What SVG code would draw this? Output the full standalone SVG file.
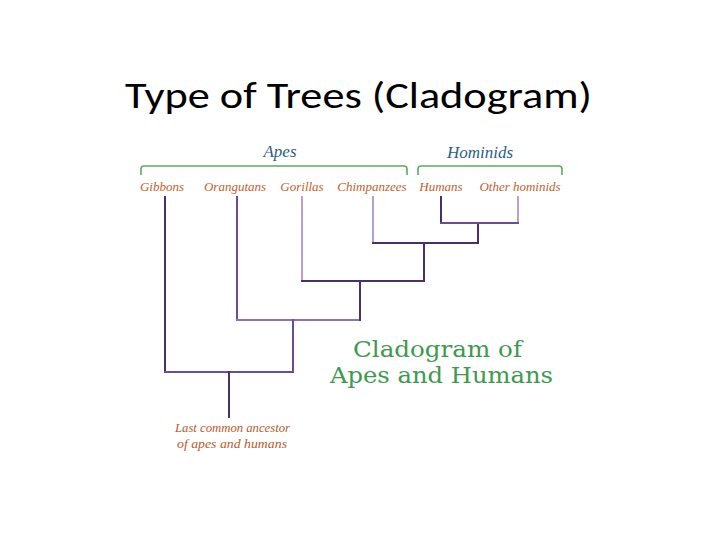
<svg xmlns="http://www.w3.org/2000/svg" width="720" height="540" viewBox="0 0 720 540">
<style>
.title{font-family:Carlito,"Liberation Sans","Open Sans",sans-serif;font-size:36px;fill:#000}
.lbl{font-family:"Liberation Serif","DejaVu Serif",serif;font-style:italic;font-size:13px;fill:#c0612c}
.grp{font-family:"Liberation Serif","DejaVu Serif",serif;font-style:italic;font-size:17px;fill:#2a5f80}
.big{font-family:"DejaVu Serif","Liberation Serif",serif;font-size:23px;fill:#3d9a4e}
.anc{font-family:"Liberation Serif","DejaVu Serif",serif;font-style:italic;font-size:12.5px;fill:#b85a2a}
.br{fill:none;stroke:#5cab62;stroke-width:1.6}
.ln{fill:none;stroke-width:2;stroke-linecap:square}
.d{stroke:#4b2f68}
.m{stroke:#6a4c98}
.l{stroke:#b9a0cf}
.h{stroke:#8d71b2}
</style>
<rect width="720" height="540" fill="#fff"/>
<text class="title" x="125" y="108" textLength="467" lengthAdjust="spacingAndGlyphs">Type of Trees (Cladogram)</text>

<g id="brackets">
<path class="br" d="M141,175 V169 Q141,166 144,166 H404 Q407,166 407,169 V175"/>
<path class="br" d="M418,175 V169 Q418,166 421,166 H559 Q562,166 562,169 V175"/>
<text class="grp" x="280" y="157" text-anchor="middle">Apes</text>
<text class="grp" x="480" y="158" text-anchor="middle">Hominids</text>
</g>

<g id="gibbons"><text class="lbl" x="162" y="191" text-anchor="middle">Gibbons</text></g>
<g id="orangutans"><text class="lbl" x="235" y="191" text-anchor="middle">Orangutans</text></g>
<g id="gorillas"><text class="lbl" x="302" y="191" text-anchor="middle">Gorillas</text></g>
<g id="chimpanzees"><text class="lbl" x="372" y="191" text-anchor="middle">Chimpanzees</text></g>
<g id="humans"><text class="lbl" x="441" y="191" text-anchor="middle">Humans</text></g>
<g id="other-hominids"><text class="lbl" x="520" y="191" text-anchor="middle">Other hominids</text></g>
<g id="ancestor">
<text class="anc" x="175" y="432" textLength="115" lengthAdjust="spacingAndGlyphs">Last common ancestor</text>
<text class="anc" x="177" y="448" textLength="110" lengthAdjust="spacingAndGlyphs">of apes and humans</text>
</g>
<g id="caption">
<text class="big" x="353" y="357" textLength="169" lengthAdjust="spacingAndGlyphs">Cladogram of</text>
<text class="big" x="330" y="383" textLength="223" lengthAdjust="spacingAndGlyphs">Apes and Humans</text>
</g>

<g id="connectors">
<path class="ln d" d="M165,197 V372"/>
<path class="ln m" d="M237,197 V320"/>
<path class="ln h" d="M237,320 H360"/>
<path class="ln d" d="M360,320 V281"/>
<path class="ln l" d="M302,197 V281"/>
<path class="ln d" d="M302,281 H424"/>
<path class="ln d" d="M424,281 V243"/>
<path class="ln l" d="M373,197 V243"/>
<path class="ln d" d="M373,243 H478"/>
<path class="ln d" d="M478,243 V223"/>
<path class="ln d" d="M441,197 V223"/>
<path class="ln l" d="M518,197 V223"/>
<path class="ln m" d="M441,223 H518"/>
<path class="ln m" d="M165,372 H293"/>
<path class="ln m" d="M293,372 V320"/>
<path class="ln d" d="M229,372 V417"/>
</g>
</svg>
